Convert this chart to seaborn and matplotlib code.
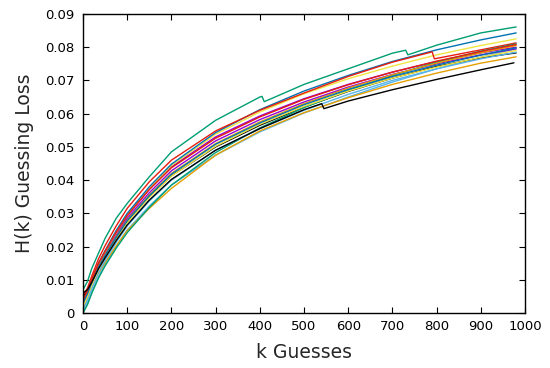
import matplotlib
matplotlib.use("Agg")
import matplotlib.pyplot as plt
import seaborn as sns
import pandas as pd

# guesses at which every run was read off the picture
K = [0, 10, 20, 35, 50, 75, 100, 150, 200, 300, 400, 500, 600, 700, 800, 900, 980]
# runs with visible drops get their own k lists
K_GREEN_TOP = [0, 10, 20, 35, 50, 75, 100, 150, 200, 300, 400, 405, 410, 500, 600,
               700, 730, 735, 800, 900, 980]
K_RED_TOP = [0, 10, 20, 35, 50, 75, 100, 150, 200, 300, 400, 500, 600, 700, 790, 795,
             900, 980]
K_BLACK_LOW = [0, 10, 20, 35, 50, 75, 100, 150, 200, 300, 400, 500, 540, 545, 600,
               700, 800, 900, 975]

purple_1 = [0.003, 0.006, 0.0096, 0.0145, 0.0182, 0.0240, 0.0292, 0.0372, 0.0440, 0.0530,
            0.0593, 0.0645, 0.0688, 0.0725, 0.0757, 0.0783, 0.0800]
green_1 = [0.007, 0.0095, 0.0135, 0.0180, 0.0225, 0.0285, 0.0330, 0.0410, 0.0485, 0.0580,
           0.0650, 0.0652, 0.0636, 0.0688, 0.0735, 0.0782, 0.0791, 0.0777, 0.0806, 0.0843, 0.0861]
sky_1 = [0.000, 0.003, 0.0065, 0.0110, 0.0148, 0.0200, 0.0250, 0.0322, 0.0385, 0.0475,
         0.0545, 0.0602, 0.0650, 0.0695, 0.0735, 0.0770, 0.0795]
orange_1 = [0.001, 0.0045, 0.0078, 0.0120, 0.0152, 0.0202, 0.0248, 0.0315, 0.0375, 0.0475,
            0.0548, 0.0603, 0.0648, 0.0688, 0.0722, 0.0752, 0.0771]
yellow_1 = [0.003, 0.006, 0.0097, 0.0146, 0.0183, 0.0242, 0.0294, 0.0375, 0.0444, 0.0538,
            0.0605, 0.0660, 0.0705, 0.0743, 0.0777, 0.0805, 0.0825]
blue_1 = [0.004, 0.0065, 0.0100, 0.0150, 0.0188, 0.0248, 0.0300, 0.0380, 0.0448, 0.0543,
          0.0612, 0.0668, 0.0715, 0.0757, 0.0792, 0.0822, 0.0843]
red_1 = [0.005, 0.0075, 0.0112, 0.0163, 0.0203, 0.0262, 0.0315, 0.0395, 0.0460, 0.0548,
         0.0610, 0.0662, 0.0712, 0.0755, 0.0786, 0.0765, 0.0792, 0.0813]
black_1 = [0.005, 0.0065, 0.0095, 0.0138, 0.0172, 0.0226, 0.0275, 0.0350, 0.0413, 0.0500,
           0.0565, 0.0620, 0.0667, 0.0707, 0.0742, 0.0768, 0.0783]

purple_2 = [0.002, 0.0055, 0.0092, 0.0140, 0.0176, 0.0233, 0.0285, 0.0362, 0.0428, 0.0518,
            0.0582, 0.0635, 0.0680, 0.0718, 0.0750, 0.0777, 0.0795]
green_2 = [0.000, 0.0025, 0.0060, 0.0105, 0.0142, 0.0195, 0.0242, 0.0318, 0.0385, 0.0483,
           0.0557, 0.0618, 0.0670, 0.0715, 0.0755, 0.0788, 0.0810]
sky_2 = [0.001, 0.0040, 0.0075, 0.0122, 0.0158, 0.0212, 0.0262, 0.0337, 0.0400, 0.0490,
         0.0555, 0.0610, 0.0658, 0.0700, 0.0735, 0.0765, 0.0785]
orange_2 = [0.003, 0.0060, 0.0094, 0.0140, 0.0175, 0.0230, 0.0280, 0.0355, 0.0420, 0.0510,
            0.0575, 0.0630, 0.0677, 0.0717, 0.0752, 0.0783, 0.0805]
yellow_2 = [0.002, 0.0050, 0.0085, 0.0132, 0.0168, 0.0222, 0.0272, 0.0348, 0.0412, 0.0502,
            0.0568, 0.0622, 0.0668, 0.0707, 0.0740, 0.0770, 0.0790]
blue_2 = [0.003, 0.0058, 0.0092, 0.0138, 0.0173, 0.0228, 0.0278, 0.0353, 0.0418, 0.0508,
          0.0572, 0.0627, 0.0673, 0.0712, 0.0746, 0.0776, 0.0798]
red_2 = [0.004, 0.0068, 0.0102, 0.0150, 0.0186, 0.0243, 0.0294, 0.0372, 0.0437, 0.0526,
         0.0590, 0.0643, 0.0687, 0.0725, 0.0758, 0.0787, 0.0808]
black_2 = [0.006, 0.0070, 0.0093, 0.0133, 0.0166, 0.0218, 0.0265, 0.0340, 0.0402, 0.0490,
           0.0555, 0.0612, 0.0630, 0.0615, 0.0638, 0.0672, 0.0703, 0.0732, 0.0753]

X_TICKS = [0, 100, 200, 300, 400, 500, 600, 700, 800, 900, 1000]
Y_TICKS = [0, 0.01, 0.02, 0.03, 0.04, 0.05, 0.06, 0.07, 0.08, 0.09]
Y_TICK_LABELS = ["0", "0.01", "0.02", "0.03", "0.04", "0.05", "0.06", "0.07", "0.08", "0.09"]

# gnuplot default line colours, cycled twice
PODO = ["#9400d3", "#009e73", "#56b4e9", "#e69f00", "#f0e442", "#0072b2", "#e51e10", "#000000"]

runs = [purple_1, green_1, sky_1, orange_1, yellow_1, blue_1, red_1, black_1,
        purple_2, green_2, sky_2, orange_2, yellow_2, blue_2, red_2, black_2]
own_k = {1: K_GREEN_TOP, 6: K_RED_TOP, 15: K_BLACK_LOW}

rows = []
for i, h in enumerate(runs):
    ks = own_k.get(i, K)
    for k, v in zip(ks, h):
        rows.append({"run": f"run{i:02d}", "k": k, "h": v})
df = pd.DataFrame(rows)

sns.set_style("ticks")
plt.rcParams["font.family"] = ["DejaVu Sans"]

fig = plt.figure(figsize=(5.5, 3.68), dpi=100)
ax = fig.add_axes([0.151, 0.1495, 0.8035, 0.8125])

sns.lineplot(data=df, x="k", y="h", hue="run", palette=PODO * 2,
             estimator=None, sort=False, legend=False, linewidth=1.0, ax=ax)

ax.set_xlim(0, 1000)
ax.set_ylim(0, 0.09)
ax.set_xticks(X_TICKS)
ax.set_yticks(Y_TICKS)
ax.set_yticklabels(Y_TICK_LABELS)
ax.tick_params(direction="in", length=4, width=0.8, top=True, right=True,
               labelsize=9.5, colors="black")
ax.tick_params(axis="y", pad=6)
ax.tick_params(axis="x", pad=5)
for s in ax.spines.values():
    s.set_visible(True)
    s.set_linewidth(1.0)
    s.set_color("black")

ax.set_xlabel("k Guesses", fontsize=13.5, labelpad=7)
ax.set_ylabel("H(k) Guessing Loss", fontsize=13.5, labelpad=8)

fig.savefig("out.png", dpi=100)
